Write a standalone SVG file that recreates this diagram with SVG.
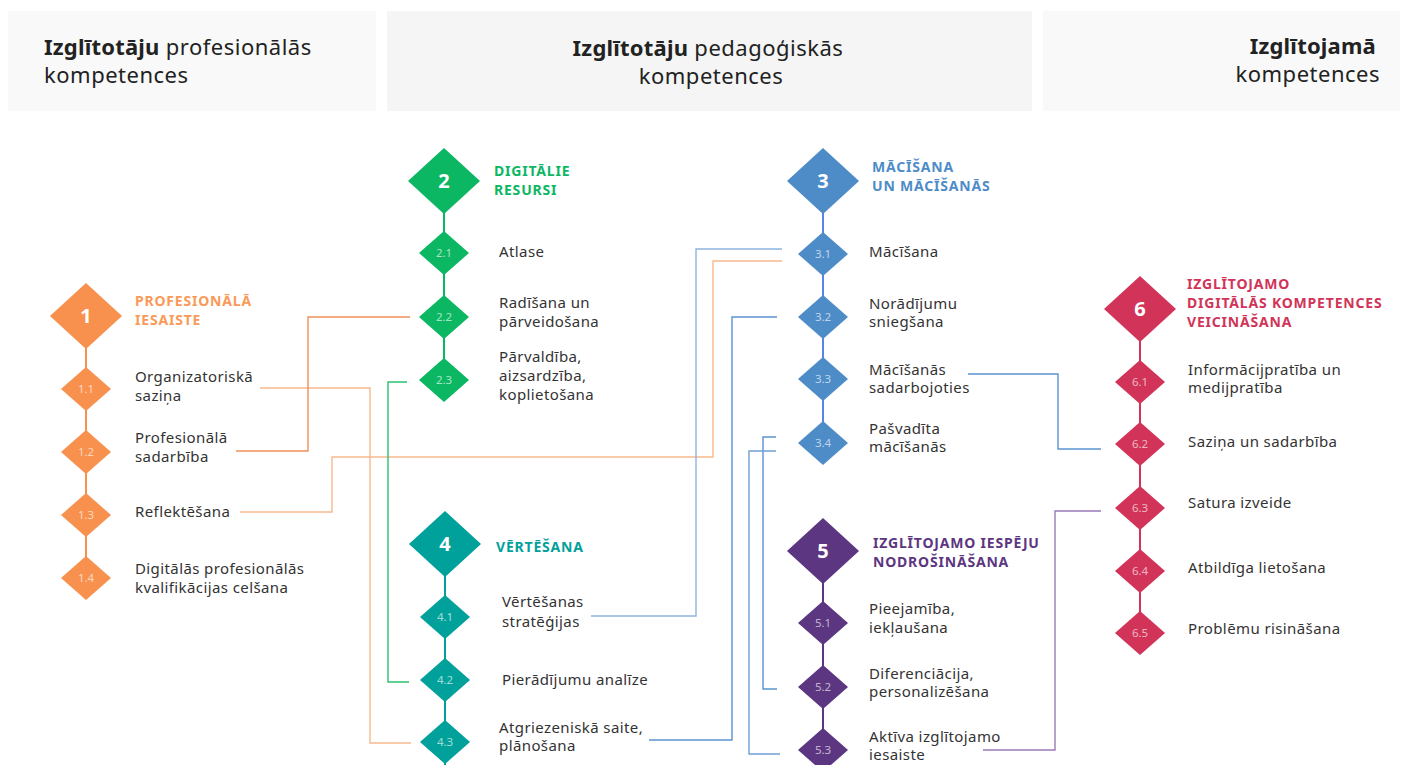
<svg xmlns="http://www.w3.org/2000/svg" width="1404" height="765" viewBox="0 0 1404 765">
  <defs>
    <style>
      .hdr { font-family: "Noto Sans", "Open Sans", sans-serif; font-size: 22px; letter-spacing: 0.5px; fill: #222; }
      .hdr .b { font-weight: 700; letter-spacing: 0.2px; }
      .ttl { font-family: "Noto Sans", "Liberation Sans", sans-serif; font-size: 14px; font-weight: 700; letter-spacing: 0.8px; }
      .lbl { font-family: "Noto Sans", "Liberation Sans", sans-serif; font-size: 15px; letter-spacing: 0.4px; fill: #333; }
      .num { font-family: "Noto Sans", "Liberation Sans", sans-serif; font-size: 20px; font-weight: 700; fill: #fff; text-anchor: middle; }
      .sub { font-family: "Noto Sans", "Liberation Sans", sans-serif; font-size: 11.5px; fill: #fff; fill-opacity: 0.65; text-anchor: middle; }
      .spine { stroke-width: 2; fill: none; }
      .link { fill: none; stroke-width: 1.4; }
      .c1 { fill: #f7914d; } .s1 { stroke: #f7914d; }
      .c2 { fill: #0bb762; } .s2 { stroke: #0bb762; }
      .c3 { fill: #4e8cc8; } .s3 { stroke: #5b84ea; }
      .c4 { fill: #00a19a; } .s4 { stroke: #00a19a; }
      .c5 { fill: #5c3680; } .s5 { stroke: #5c3680; }
      .c6 { fill: #d13458; } .s6 { stroke: #d13458; }
    </style>
    <path id="big" d="M0,-33 L36,0 L0,33 L-36,0 Z"/>
    <path id="small" d="M0,-22 L25,0 L0,22 L-25,0 Z"/>
  </defs>

  <rect width="1404" height="765" fill="#ffffff"/>

  <!-- column headers -->
  <g id="header-1">
    <rect x="8" y="11" width="368" height="100" fill="#f9f9f9"/>
    <text class="hdr" x="44" y="55"><tspan class="b">Izglītotāju</tspan> profesionālās</text>
    <text class="hdr" x="44" y="83">kompetences</text>
  </g>
  <g id="header-2">
    <rect x="387" y="11" width="645" height="100" fill="#f5f5f5"/>
    <text class="hdr" x="708" y="56" text-anchor="middle"><tspan class="b">Izglītotāju</tspan> pedagoģiskās</text>
    <text class="hdr" x="711" y="84" text-anchor="middle">kompetences</text>
  </g>
  <g id="header-3">
    <rect x="1043" y="11" width="357" height="100" fill="#f9f9f9"/>
    <text class="hdr" x="1376" y="54" text-anchor="end"><tspan class="b">Izglītojamā</tspan></text>
    <text class="hdr" x="1380" y="82" text-anchor="end">kompetences</text>
  </g>

  <!-- cross-area connectors -->
  <g id="connectors">
    <!-- 1.1 -> 4.3 -->
    <polyline class="link" stroke="#f7b98f" points="260,388 370,388 370,743 411,743"/>
    <!-- 1.2 -> 2.2 -->
    <polyline class="link" stroke="#f0905a" points="236,451 308,451 308,317 410,317"/>
    <!-- 1.3 -> 3.1 -->
    <polyline class="link" stroke="#f7b98f" points="240,512 332,512 332,457 713,457 713,261 782,261"/>
    <!-- 2.3 -> 4.2 -->
    <polyline class="link" stroke="#2bc26e" points="407,382 388,382 388,682 409,682"/>
    <!-- 4.1 -> 3.1 -->
    <polyline class="link" stroke="#8eb4df" points="591,616 696,616 696,249 782,249"/>
    <!-- 4.3 -> 3.2 -->
    <polyline class="link" stroke="#5b93d0" points="649,740 732,740 732,317 777,317"/>
    <!-- 3.4 -> 5.2 -->
    <polyline class="link" stroke="#5b93d0" points="776,437 763,437 763,689 777,689"/>
    <!-- 3.4 -> 5.3 -->
    <polyline class="link" stroke="#6f9fd6" points="776,451 749,451 749,754 780,754"/>
    <!-- 3.3 -> 6.2 -->
    <polyline class="link" stroke="#5b93d0" points="968,374 1058,374 1058,449 1101,449"/>
    <!-- 5.3 -> 6.3 -->
    <polyline class="link" stroke="#9b7bb8" points="983,750 1055,750 1055,511 1101,511"/>
  </g>

  <!-- area 1 -->
  <g id="area-1">
    <line class="spine s1" x1="86" y1="316" x2="86" y2="578"/>
    <use href="#big" class="c1" transform="translate(86,316)"/>
    <text class="num" x="86" y="323">1</text>
    <text class="ttl" x="135" y="306" fill="#f99a58">PROFESIONĀLĀ</text>
    <text class="ttl" x="135" y="325" fill="#f99a58">IESAISTE</text>
  </g>
  <g id="node-1-1">
    <use href="#small" class="c1" transform="translate(86,389)"/>
    <text class="sub" x="86" y="393">1.1</text>
    <text class="lbl" x="135" y="382">Organizatoriskā</text>
    <text class="lbl" x="135" y="401">saziņa</text>
  </g>
  <g id="node-1-2">
    <use href="#small" class="c1" transform="translate(86,452)"/>
    <text class="sub" x="86" y="456">1.2</text>
    <text class="lbl" x="135" y="443">Profesionālā</text>
    <text class="lbl" x="135" y="462">sadarbība</text>
  </g>
  <g id="node-1-3">
    <use href="#small" class="c1" transform="translate(86,515)"/>
    <text class="sub" x="86" y="519">1.3</text>
    <text class="lbl" x="135" y="517">Reflektēšana</text>
  </g>
  <g id="node-1-4">
    <use href="#small" class="c1" transform="translate(86,578)"/>
    <text class="sub" x="86" y="582">1.4</text>
    <text class="lbl" x="135" y="574">Digitālās profesionālās</text>
    <text class="lbl" x="135" y="593">kvalifikācijas celšana</text>
  </g>

  <!-- area 2 -->
  <g id="area-2">
    <line class="spine s2" x1="444" y1="181" x2="444" y2="380"/>
    <use href="#big" class="c2" transform="translate(444,181)"/>
    <text class="num" x="444" y="188">2</text>
    <text class="ttl" x="494" y="176" fill="#0bb762">DIGITĀLIE</text>
    <text class="ttl" x="494" y="195" fill="#0bb762">RESURSI</text>
  </g>
  <g id="node-2-1">
    <use href="#small" class="c2" transform="translate(444,253)"/>
    <text class="sub" x="444" y="257">2.1</text>
    <text class="lbl" x="499" y="257">Atlase</text>
  </g>
  <g id="node-2-2">
    <use href="#small" class="c2" transform="translate(444,317)"/>
    <text class="sub" x="444" y="321">2.2</text>
    <text class="lbl" x="499" y="308">Radīšana un</text>
    <text class="lbl" x="499" y="327">pārveidošana</text>
  </g>
  <g id="node-2-3">
    <use href="#small" class="c2" transform="translate(444,380)"/>
    <text class="sub" x="444" y="384">2.3</text>
    <text class="lbl" x="499" y="362">Pārvaldība,</text>
    <text class="lbl" x="499" y="381">aizsardzība,</text>
    <text class="lbl" x="499" y="400">koplietošana</text>
  </g>

  <!-- area 4 -->
  <g id="area-4">
    <line class="spine s4" x1="445" y1="544" x2="445" y2="765"/>
    <use href="#big" class="c4" transform="translate(445,544)"/>
    <text class="num" x="445" y="551">4</text>
    <text class="ttl" x="496" y="552" fill="#00a19a">VĒRTĒŠANA</text>
  </g>
  <g id="node-4-1">
    <use href="#small" class="c4" transform="translate(445,617)"/>
    <text class="sub" x="445" y="621">4.1</text>
    <text class="lbl" x="502" y="607">Vērtēšanas</text>
    <text class="lbl" x="502" y="627">stratēģijas</text>
  </g>
  <g id="node-4-2">
    <use href="#small" class="c4" transform="translate(445,680)"/>
    <text class="sub" x="445" y="684">4.2</text>
    <text class="lbl" x="502" y="685">Pierādījumu analīze</text>
  </g>
  <g id="node-4-3">
    <use href="#small" class="c4" transform="translate(445,742)"/>
    <text class="sub" x="445" y="746">4.3</text>
    <text class="lbl" x="499" y="733">Atgriezeniskā saite,</text>
    <text class="lbl" x="499" y="751">plānošana</text>
  </g>

  <!-- area 3 -->
  <g id="area-3">
    <line class="spine s3" x1="823" y1="181" x2="823" y2="443"/>
    <use href="#big" class="c3" transform="translate(823,181)"/>
    <text class="num" x="823" y="188">3</text>
    <text class="ttl" x="872" y="172" fill="#4e8cc8">MĀCĪŠANA</text>
    <text class="ttl" x="872" y="191" fill="#4e8cc8">UN MĀCĪŠANĀS</text>
  </g>
  <g id="node-3-1">
    <use href="#small" class="c3" transform="translate(823,254)"/>
    <text class="sub" x="823" y="258">3.1</text>
    <text class="lbl" x="869" y="257">Mācīšana</text>
  </g>
  <g id="node-3-2">
    <use href="#small" class="c3" transform="translate(823,317)"/>
    <text class="sub" x="823" y="321">3.2</text>
    <text class="lbl" x="869" y="309">Norādījumu</text>
    <text class="lbl" x="869" y="327">sniegšana</text>
  </g>
  <g id="node-3-3">
    <use href="#small" class="c3" transform="translate(823,379)"/>
    <text class="sub" x="823" y="383">3.3</text>
    <text class="lbl" x="869" y="375">Mācīšanās</text>
    <text class="lbl" x="869" y="393">sadarbojoties</text>
  </g>
  <g id="node-3-4">
    <use href="#small" class="c3" transform="translate(823,443)"/>
    <text class="sub" x="823" y="447">3.4</text>
    <text class="lbl" x="869" y="434">Pašvadīta</text>
    <text class="lbl" x="869" y="452">mācīšanās</text>
  </g>

  <!-- area 5 -->
  <g id="area-5">
    <line class="spine s5" x1="823" y1="551" x2="823" y2="750"/>
    <use href="#big" class="c5" transform="translate(823,551)"/>
    <text class="num" x="823" y="558">5</text>
    <text class="ttl" x="873" y="548" fill="#5c3680">IZGLĪTOJAMO IESPĒJU</text>
    <text class="ttl" x="873" y="567" fill="#5c3680">NODROŠINĀŠANA</text>
  </g>
  <g id="node-5-1">
    <use href="#small" class="c5" transform="translate(823,623)"/>
    <text class="sub" x="823" y="627">5.1</text>
    <text class="lbl" x="869" y="614">Pieejamība,</text>
    <text class="lbl" x="869" y="633">iekļaušana</text>
  </g>
  <g id="node-5-2">
    <use href="#small" class="c5" transform="translate(823,687)"/>
    <text class="sub" x="823" y="691">5.2</text>
    <text class="lbl" x="869" y="679">Diferenciācija,</text>
    <text class="lbl" x="869" y="697">personalizēšana</text>
  </g>
  <g id="node-5-3">
    <use href="#small" class="c5" transform="translate(823,750)"/>
    <text class="sub" x="823" y="754">5.3</text>
    <text class="lbl" x="869" y="742">Aktīva izglītojamo</text>
    <text class="lbl" x="869" y="760">iesaiste</text>
  </g>

  <!-- area 6 -->
  <g id="area-6">
    <line class="spine s6" x1="1140" y1="309" x2="1140" y2="633"/>
    <use href="#big" class="c6" transform="translate(1140,309)"/>
    <text class="num" x="1140" y="316">6</text>
    <text class="ttl" x="1187" y="289" fill="#d13458">IZGLĪTOJAMO</text>
    <text class="ttl" x="1187" y="308" fill="#d13458">DIGITĀLĀS KOMPETENCES</text>
    <text class="ttl" x="1187" y="327" fill="#d13458">VEICINĀŠANA</text>
  </g>
  <g id="node-6-1">
    <use href="#small" class="c6" transform="translate(1140,382)"/>
    <text class="sub" x="1140" y="386">6.1</text>
    <text class="lbl" x="1188" y="375">Informācijpratība un</text>
    <text class="lbl" x="1188" y="393">medijpratība</text>
  </g>
  <g id="node-6-2">
    <use href="#small" class="c6" transform="translate(1140,444)"/>
    <text class="sub" x="1140" y="448">6.2</text>
    <text class="lbl" x="1188" y="447">Saziņa un sadarbība</text>
  </g>
  <g id="node-6-3">
    <use href="#small" class="c6" transform="translate(1140,508)"/>
    <text class="sub" x="1140" y="512">6.3</text>
    <text class="lbl" x="1188" y="508">Satura izveide</text>
  </g>
  <g id="node-6-4">
    <use href="#small" class="c6" transform="translate(1140,571)"/>
    <text class="sub" x="1140" y="575">6.4</text>
    <text class="lbl" x="1188" y="573">Atbildīga lietošana</text>
  </g>
  <g id="node-6-5">
    <use href="#small" class="c6" transform="translate(1140,633)"/>
    <text class="sub" x="1140" y="637">6.5</text>
    <text class="lbl" x="1188" y="634">Problēmu risināšana</text>
  </g>
</svg>
